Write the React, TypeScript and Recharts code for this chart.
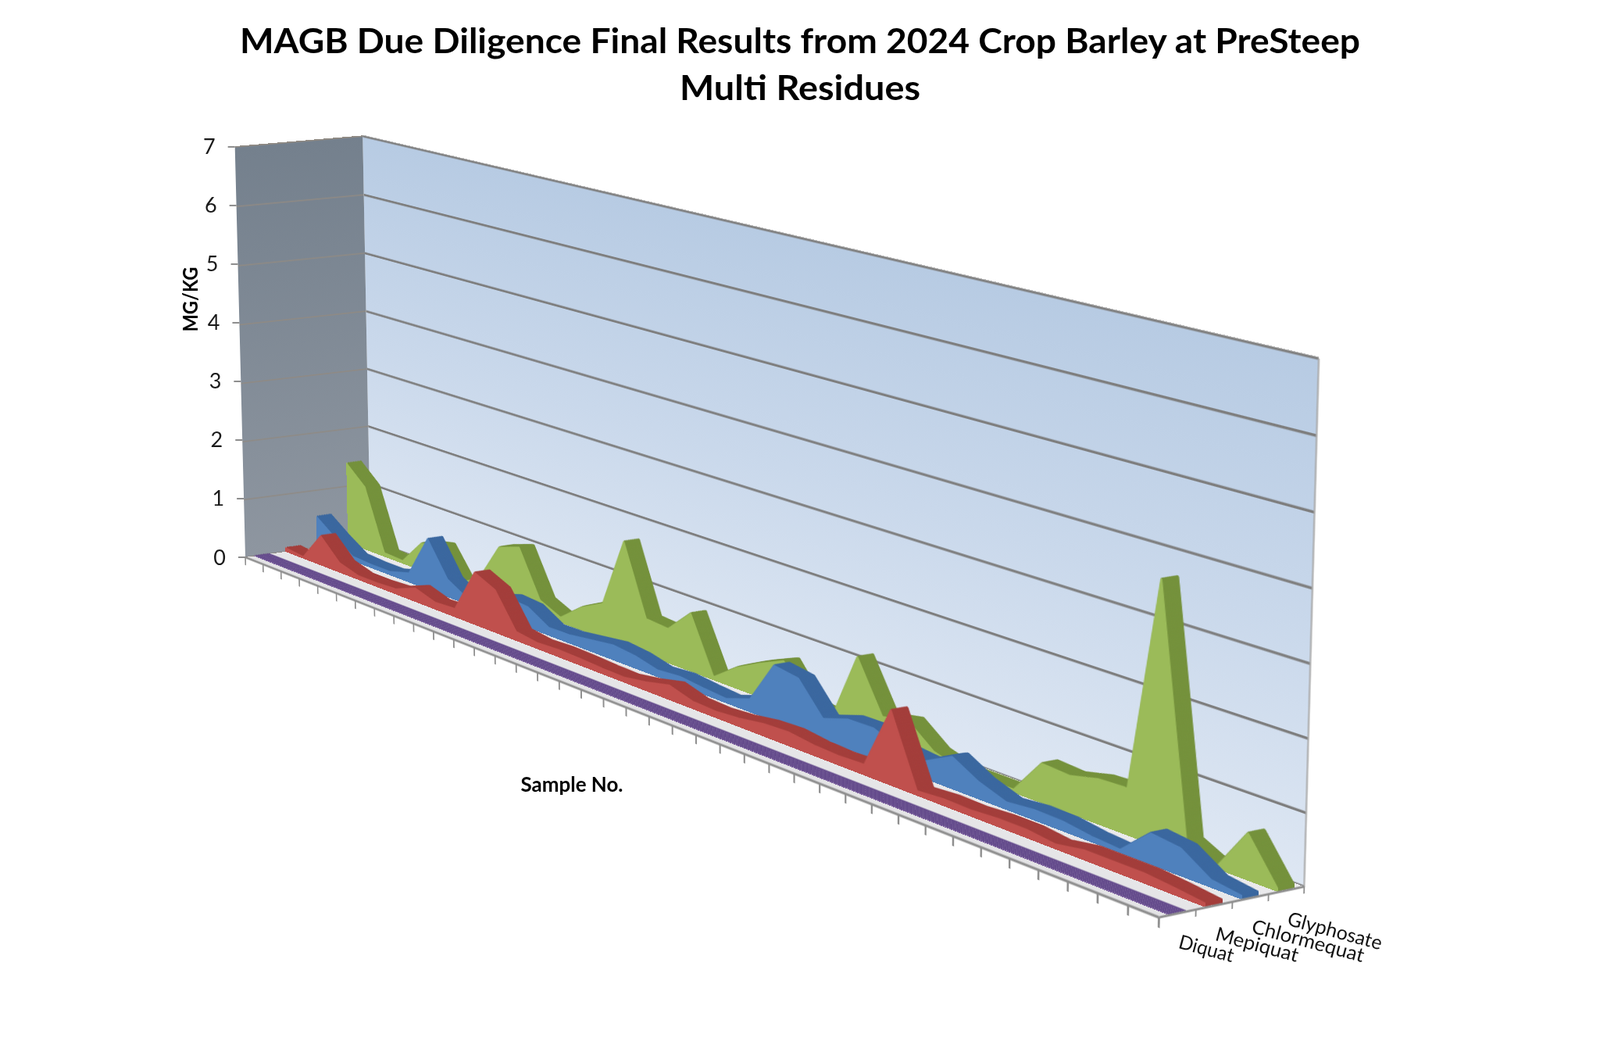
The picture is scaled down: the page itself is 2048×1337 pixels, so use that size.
import React from "react";
import { AreaChart, Area, XAxis, YAxis, ReferenceLine, LineChart } from "recharts";

// ---------------- data ----------------
const samples = [
  "1", "2", "3", "4", "5", "6", "7", "8", "9", "10",
  "11", "12", "13", "14", "15", "16", "17", "18", "19", "20",
  "21", "22", "23", "24", "25", "26", "27", "28", "29", "30",
  "31", "32", "33", "34", "35", "36", "37", "38", "39", "40",
];

const glyphosate = [
  1.41, 1.1, 0.07, 0.05, 0.47, 0.55, 0.04, 0.25, 0.88, 1.0,
  0.25, 0.09, 0.38, 0.57, 1.69, 0.58, 0.55, 0.92, 0.05, 0.33,
  0.53, 0.7, 0.2, 0.13, 1.16, 0.4, 0.48, 0.17, 0.05, 0.05,
  0.05, 0.57, 0.54, 0.64, 0.66, 3.68, 0.23, 0.02, 0.64, 0.03,
];

const chlormequat = [
  0.55, 0.3, 0.08, 0.06, 0.06, 0.16, 0.86, 0.3, 0.1, 0.25,
  0.37, 0.34, 0.13, 0.14, 0.19, 0.24, 0.2, 0.11, 0.14, 0.1,
  0.07, 0.2, 0.85, 0.79, 0.32, 0.45, 0.46, 0.3, 0.26, 0.47,
  0.25, 0.11, 0.15, 0.14, 0.08, 0.05, 0.43, 0.38, 0.11, 0.05,
];

const mepiquat = [
  0.07, 0.03, 0.51, 0.17, 0.07, 0.07, 0.09, 0.23, 0.12, 0.14,
  0.86, 0.7, 0.15, 0.1, 0.12, 0.11, 0.09, 0.08, 0.14, 0.23,
  0.12, 0.1, 0.13, 0.19, 0.21, 0.16, 0.14, 0.16, 1.09, 0.07,
  0.1, 0.09, 0.12, 0.12, 0.07, 0.14, 0.14, 0.14, 0.1, 0.05,
];

const diquat = [
  0, 0, 0, 0, 0, 0, 0, 0, 0, 0,
  0, 0, 0, 0, 0, 0, 0, 0, 0, 0,
  0, 0, 0, 0, 0, 0, 0, 0, 0, 0,
  0, 0, 0, 0, 0, 0, 0, 0, 0, 0,
];

// front (index 0) to back (index 3)
const seriesNames = ["Diquat", "Mepiquat", "Chlormequat", "Glyphosate"];
const seriesKeys = ["diquat", "mepiquat", "chlormequat", "glyphosate"];
const frontColors = ["#8064A2", "#C0504D", "#4F81BD", "#9BBB59"];
const topColors = ["#644B8C", "#A33D3A", "#3A679F", "#74913B"];

const valueTicks = [0, 1, 2, 3, 4, 5, 6, 7];

const titleLines = [
  "MAGB Due Diligence Final Results from 2024 Crop Barley at PreSteep",
  "Multi Residues",
];
const yAxisTitle = "MG/KG";
const xAxisTitle = "Sample No.";

// ---------------- layout / 3D camera ----------------
const PAGE_W = 2048;
const PAGE_H = 1337;
const X_MAX = samples.length - 1;
const Y_MAX = valueTicks[valueTicks.length - 1];
const Z_MAX = seriesNames.length;

type Vec3 = [number, number, number];

// corners of the 3D box (world) and where they sit on the page
const anchors: { world: Vec3; screen: [number, number] }[] = [
  { world: [0, 0, 0], screen: [315, 712] },
  { world: [0, 7, 0], screen: [300, 188] },
  { world: [39, 0, 0], screen: [1483, 1175] },
  { world: [0, 0, 4], screen: [473, 692] },
  { world: [0, 7, 4], screen: [465, 174] },
  { world: [39, 0, 4], screen: [1670, 1133] },
  { world: [39, 7, 4], screen: [1688, 459] },
];

function solveCamera(): number[][] {
  const A: number[][] = [];
  const b: number[] = [];
  for (const { world, screen } of anchors) {
    const x = world[0] / 39, y = world[1] / 7, z = world[2] / 4;
    const u = screen[0] / 1000, v = screen[1] / 1000;
    A.push([x, y, z, 1, 0, 0, 0, 0, -u * x, -u * y, -u * z]);
    b.push(u);
    A.push([0, 0, 0, 0, x, y, z, 1, -v * x, -v * y, -v * z]);
    b.push(v);
  }
  const n = 11;
  const M: number[][] = Array.from({ length: n }, () => new Array(n + 1).fill(0));
  for (let r = 0; r < A.length; r++) {
    for (let i = 0; i < n; i++) {
      for (let j = 0; j < n; j++) M[i][j] += A[r][i] * A[r][j];
      M[i][n] += A[r][i] * b[r];
    }
  }
  for (let c = 0; c < n; c++) {
    let p = c;
    for (let r = c + 1; r < n; r++) if (Math.abs(M[r][c]) > Math.abs(M[p][c])) p = r;
    const t = M[c];
    M[c] = M[p];
    M[p] = t;
    for (let r = 0; r < n; r++) {
      if (r === c) continue;
      const f = M[r][c] / M[c][c];
      for (let k = c; k <= n; k++) M[r][k] -= f * M[c][k];
    }
  }
  const p = M.map((row, i) => row[n] / row[i]);
  return [
    [p[0], p[1], p[2], p[3]],
    [p[4], p[5], p[6], p[7]],
    [p[8], p[9], p[10], 1],
  ];
}

const CAM = solveCamera();

const nrm = (v: Vec3): Vec3 => [v[0] / 39, v[1] / 7, v[2] / 4];

function project(X: number, Y: number, Z: number): [number, number] {
  const v = nrm([X, Y, Z]);
  const r = CAM.map((row) => row[0] * v[0] + row[1] * v[1] + row[2] * v[2] + row[3]);
  return [(1000 * r[0]) / r[2], (1000 * r[1]) / r[2]];
}

function planeTransform(origin: Vec3, ex: Vec3, ey: Vec3): string {
  const o = nrm(origin), a = nrm(ex), c = nrm(ey);
  const col = (v: Vec3, w: number) =>
    CAM.map((row) => row[0] * v[0] + row[1] * v[1] + row[2] * v[2] + row[3] * w);
  const cx = col(a, 0), cy = col(c, 0), c0 = col(o, 1);
  const s = c0[2];
  const h00 = (1000 * cx[0]) / s, h01 = (1000 * cy[0]) / s, h02 = (1000 * c0[0]) / s;
  const h10 = (1000 * cx[1]) / s, h11 = (1000 * cy[1]) / s, h12 = (1000 * c0[1]) / s;
  const h20 = cx[2] / s, h21 = cy[2] / s;
  return `matrix3d(${h00},${h10},0,${h20},${h01},${h11},0,${h21},0,0,1,0,${h02},${h12},0,1)`;
}

function Plane(props: {
  origin: Vec3;
  ex: Vec3;
  ey: Vec3;
  w: number;
  h: number;
  style?: React.CSSProperties;
  children?: React.ReactNode;
}) {
  const { origin, ex, ey, w, h, style, children } = props;
  return (
    <div
      style={{
        position: "absolute",
        left: 0,
        top: 0,
        width: w,
        height: h,
        transformOrigin: "0 0",
        transform: planeTransform(origin, ex, ey),
        ...style,
      }}
    >
      {children}
    </div>
  );
}

const ZERO = { top: 0, right: 0, bottom: 0, left: 0 };
const SW = 1170; // local width of vertical planes along samples
const SH = 560; // local height for 0..7
const BH = 600;
const SIDE_W = 170;
const FLOOR_H = 160;
const AXH = 16;
const RW = 200;
const RY = 0.4;
const RPH = 38;
const Z_FRONT = 0.27;
const Z_BACK = 0.73;
const LAYERS = 12;

const NoLabel = () => <g />;

function SeriesPlane(props: {
  rows: any[];
  dataKey: string;
  z: number;
  fill: string;
  stroke: string;
  strokeWidth: number;
}) {
  const { rows, dataKey, z, fill, stroke, strokeWidth } = props;
  return (
    <Plane origin={[0, Y_MAX, z]} ex={[X_MAX / SW, 0, 0]} ey={[0, -Y_MAX / SH, 0]} w={SW} h={SH}>
      <AreaChart width={SW} height={SH} data={rows} margin={ZERO}>
        <XAxis type="number" dataKey="i" domain={[0, X_MAX]} allowDataOverflow hide height={0} />
        <YAxis type="number" domain={[0, Y_MAX]} allowDataOverflow hide width={0} />
        <Area
          type="linear"
          dataKey={dataKey}
          fill={fill}
          fillOpacity={1}
          stroke={stroke}
          strokeWidth={strokeWidth}
          strokeLinejoin="round"
          isAnimationActive={false}
          dot={false}
          activeDot={false}
        />
      </AreaChart>
    </Plane>
  );
}

function ValueTick(props: any) {
  const { y, payload } = props;
  const v = payload.value as number;
  const [ex] = project(0, v, 0);
  return (
    <g>
      <line x1={ex - 9} x2={ex} y1={y} y2={y} stroke="#8C8C8C" strokeWidth={2} />
      <text
        x={ex - 25}
        y={y}
        dy={9.5}
        textAnchor="end"
        fontSize={27}
        fontFamily="Lato, 'Open Sans', sans-serif"
        fill="#1A1A1A"
      >
        {v}
      </text>
    </g>
  );
}

export default function App() {
  const rows = samples.map((s, i) => ({
    i,
    sample: s,
    diquat: diquat[i],
    mepiquat: mepiquat[i],
    chlormequat: chlormequat[i],
    glyphosate: glyphosate[i],
  }));
  const depthRows = seriesNames.map((name, k) => ({ z: k, name }));
  const depthTicks = [0, ...seriesNames.map((_, k) => k + 1)];
  const sampleTicks = rows.map((r) => r.i);

  const yTop = project(0, Y_MAX, 0)[1];
  const yBottom = project(0, 0, 0)[1];

  const order = seriesKeys.map((_, k) => k).reverse();
  const labelLens = [72, 109, 148, 124];

  return (
    <div
      style={{
        position: "absolute",
        left: 0,
        top: 0,
        width: PAGE_W,
        height: PAGE_H,
        overflow: "hidden",
        background: "#FFFFFF",
        fontFamily: "Lato, 'Open Sans', sans-serif",
      }}
    >
      <style>{`.recharts-surface{overflow:visible}`}</style>

      {/* back wall */}
      <Plane
        origin={[0, Y_MAX, Z_MAX]}
        ex={[X_MAX / SW, 0, 0]}
        ey={[0, -Y_MAX / BH, 0]}
        w={SW}
        h={BH}
        style={{ background: "linear-gradient(180deg,#B7CBE3 0%,#C9D8EB 50%,#DEE7F3 100%)" }}
      >
        <AreaChart width={SW} height={BH} data={rows} margin={ZERO}>
          <XAxis type="number" dataKey="i" domain={[0, X_MAX]} allowDataOverflow hide height={0} />
          <YAxis type="number" domain={[0, Y_MAX]} allowDataOverflow hide width={0} />
          {valueTicks.map((v) => (
            <ReferenceLine key={v} y={v} stroke="#7E7E7E" strokeWidth={3.2} ifOverflow="visible" />
          ))}
          <ReferenceLine x={X_MAX} stroke="#A8A8A8" strokeWidth={1.5} ifOverflow="visible" />
        </AreaChart>
      </Plane>

      {/* side wall */}
      <Plane
        origin={[0, Y_MAX, 0]}
        ex={[0, 0, Z_MAX / SIDE_W]}
        ey={[0, -Y_MAX / BH, 0]}
        w={SIDE_W}
        h={BH}
        style={{ background: "linear-gradient(180deg,#74808D 0%,#8E96A0 100%)" }}
      >
        <AreaChart width={SIDE_W} height={BH} data={depthRows} margin={ZERO}>
          <XAxis type="number" dataKey="z" domain={[0, Z_MAX]} allowDataOverflow hide height={0} />
          <YAxis type="number" domain={[0, Y_MAX]} allowDataOverflow hide width={0} />
          {valueTicks.map((v) => (
            <ReferenceLine key={v} y={v} stroke="#8F8A84" strokeWidth={1.8} ifOverflow="visible" />
          ))}
        </AreaChart>
      </Plane>

      {/* floor */}
      <Plane
        origin={[0, 0, Z_MAX]}
        ex={[X_MAX / SW, 0, 0]}
        ey={[0, 0, -Z_MAX / FLOOR_H]}
        w={SW}
        h={FLOOR_H}
        style={{ background: "linear-gradient(0deg,#E3E3E5 0%,#ECECEE 100%)" }}
      />

      {/* series ribbons, back to front */}
      {order.map((k) => {
        const zs = Array.from({ length: LAYERS }, (_, j) => k + Z_BACK - (j * (Z_BACK - Z_FRONT)) / LAYERS);
        return (
          <React.Fragment key={seriesKeys[k]}>
            {zs.map((z, j) => (
              <SeriesPlane
                key={j}
                rows={rows}
                dataKey={seriesKeys[k]}
                z={z}
                fill={topColors[k]}
                stroke={topColors[k]}
                strokeWidth={3}
              />
            ))}
            <SeriesPlane
              rows={rows}
              dataKey={seriesKeys[k]}
              z={k + Z_FRONT}
              fill={frontColors[k]}
              stroke={frontColors[k]}
              strokeWidth={2}
            />
          </React.Fragment>
        );
      })}

      {/* category axis along the front edge */}
      <Plane origin={[0, Y_MAX, 0]} ex={[X_MAX / SW, 0, 0]} ey={[0, -Y_MAX / SH, 0]} w={SW} h={SH + AXH}>
        <AreaChart width={SW} height={SH + AXH} data={rows} margin={ZERO}>
          <XAxis
            type="number"
            dataKey="i"
            domain={[0, X_MAX]}
            allowDataOverflow
            ticks={sampleTicks}
            interval={0}
            tick={NoLabel}
            tickSize={11}
            height={AXH}
            axisLine={{ stroke: "#8E8E8E", strokeWidth: 3 }}
            tickLine={{ stroke: "#8E8E8E", strokeWidth: 2 }}
          />
          <YAxis type="number" domain={[0, Y_MAX]} allowDataOverflow hide width={0} />
        </AreaChart>
      </Plane>

      {/* series (depth) axis along the right floor edge */}
      <Plane origin={[X_MAX, RY, 0]} ex={[0, 0, Z_MAX / RW]} ey={[0, -RY / RPH, 0]} w={RW} h={RPH + AXH}>
        <AreaChart width={RW} height={RPH + AXH} data={depthRows} margin={ZERO}>
          <XAxis
            type="number"
            dataKey="z"
            domain={[0, Z_MAX]}
            allowDataOverflow
            ticks={depthTicks}
            interval={0}
            tick={NoLabel}
            tickSize={9}
            height={AXH}
            axisLine={{ stroke: "#8E8E8E", strokeWidth: 3 }}
            tickLine={{ stroke: "#8E8E8E", strokeWidth: 2 }}
          />
          <YAxis type="number" domain={[0, RY]} allowDataOverflow hide width={0} />
        </AreaChart>
      </Plane>

      {/* value axis labels */}
      <div style={{ position: "absolute", left: 0, top: 0 }}>
        <LineChart
          width={PAGE_W}
          height={PAGE_H}
          data={rows}
          margin={{ top: yTop, right: 0, bottom: PAGE_H - yBottom, left: 0 }}
        >
          <XAxis type="number" dataKey="i" domain={[0, X_MAX]} allowDataOverflow hide height={0} />
          <YAxis
            type="number"
            domain={[0, Y_MAX]}
            allowDataOverflow
            ticks={valueTicks}
            interval={0}
            width={320}
            axisLine={false}
            tickLine={false}
            tickSize={0}
            tick={<ValueTick />}
          />
        </LineChart>
      </div>

      {/* texts */}
      <svg width={PAGE_W} height={PAGE_H} style={{ position: "absolute", left: 0, top: 0 }}>
        <text
          x={1024}
          y={68}
          textAnchor="middle"
          fontFamily="Lato, 'Open Sans', sans-serif"
          fontWeight={700}
          fontSize={44}
          textLength={1434}
          lengthAdjust="spacingAndGlyphs"
          fill="#000"
        >
          {titleLines[0]}
        </text>
        <text
          x={1024}
          y={128}
          textAnchor="middle"
          fontFamily="Lato, 'Open Sans', sans-serif"
          fontWeight={700}
          fontSize={44}
          textLength={308}
          lengthAdjust="spacingAndGlyphs"
          fill="#000"
        >
          {titleLines[1]}
        </text>
        <text
          x={253}
          y={383}
          transform="rotate(-90 253 383)"
          textAnchor="middle"
          fontFamily="Lato, 'Open Sans', sans-serif"
          fontWeight={700}
          fontSize={27}
          textLength={83}
          lengthAdjust="spacingAndGlyphs"
          fill="#000"
        >
          {yAxisTitle}
        </text>
        <text
          x={732}
          y={1013}
          textAnchor="middle"
          fontFamily="Lato, 'Open Sans', sans-serif"
          fontWeight={700}
          fontSize={27}
          textLength={131}
          lengthAdjust="spacingAndGlyphs"
          fill="#000"
        >
          {xAxisTitle}
        </text>
        {seriesNames.map((name, k) => {
          const [px, py] = project(X_MAX, 0, k + 0.5);
          const lx = px;
          const ly = py + 44;
          return (
            <text
              key={name}
              x={lx}
              y={ly}
              transform={`rotate(15 ${lx} ${ly})`}
              fontFamily="Lato, 'Open Sans', sans-serif"
              fontSize={25}
              textLength={labelLens[k]}
              lengthAdjust="spacingAndGlyphs"
              fill="#111"
            >
              {name}
            </text>
          );
        })}
      </svg>
    </div>
  );
}
